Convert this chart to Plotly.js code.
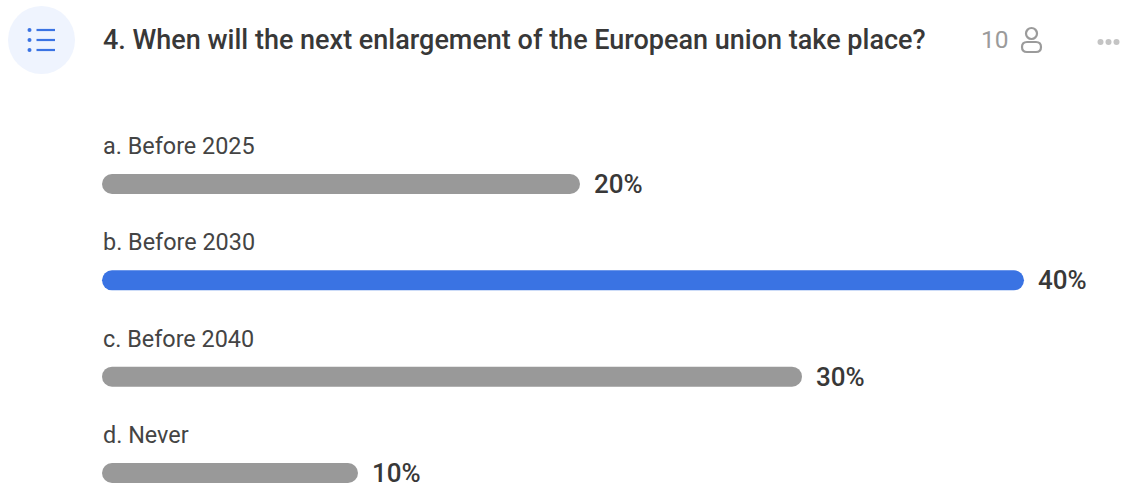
<!DOCTYPE html>
<html>
<head>
<meta charset="utf-8">
<script src="https://cdn.plot.ly/plotly-3.0.1.min.js"></script>
<style>html,body{margin:0;padding:0;background:#fff;overflow:hidden}#poll{width:1124px;height:484px}</style>
</head>
<body>
<div id="poll"></div>
<script>
// Poll result card: one rounded bar per answer, leading answer in blue.
const questionTitle = "4. When will the next enlargement of the European union take place?";
const answers = ["a. Before 2025", "b. Before 2030", "c. Before 2040", "d. Never"];
const shares = [20, 40, 30, 10];
const respondents = "10";

const GREY = "#999999", BLUE = "#3a73e3", INK = "#383838", MUTED = "#9b9b9b";
const FONT = "Roboto, sans-serif";
// Every bar keeps a short stub left of zero so a small share still reads as a pill.
const STUB = 1.53;
const leadingShare = Math.max(...shares);

const bars = {
  type: "bar",
  orientation: "h",
  y: answers.map((_, i) => i),
  x: shares.map(v => v + STUB),
  base: shares.map(() => -STUB),
  width: 0.2076,
  marker: {color: shares.map(v => v === leadingShare ? BLUE : GREY), line: {width: 0}},
  hoverinfo: "skip"
};

const annotations = [];
answers.forEach((label, i) => {
  annotations.push({
    xref: "x2", yref: "y", x: 100.5, y: i, yshift: 38, xanchor: "left", yanchor: "middle",
    text: label, showarrow: false, font: {family: FONT, size: 23.4, color: "#444444"}
  });
  annotations.push({
    xref: "x", yref: "y", x: shares[i], y: i, xshift: 12, xanchor: "left", yanchor: "middle",
    text: shares[i] + "%", showarrow: false, font: {family: FONT, size: 26, color: INK, weight: 500}
  });
});
annotations.push({
  xref: "x2", yref: "y2", x: 101, y: 40, xanchor: "left", yanchor: "middle",
  text: questionTitle, showarrow: false, font: {family: FONT, size: 27, color: INK, weight: 500}
});
annotations.push({
  xref: "x2", yref: "y2", x: 979, y: 39, xanchor: "left", yanchor: "middle",
  text: respondents, showarrow: false, font: {family: FONT, size: 24.5, color: MUTED}
});

// Header glyphs live on a second, pixel-scaled pair of axes.
const listLine = (y) => ({type: "line", xref: "x2", yref: "y2", x0: 36.5, x1: 55, y0: y, y1: y,
  line: {color: BLUE, width: 2.2}});
const listDot = (y) => ({type: "circle", xref: "x2", yref: "y2", x0: 27.5, x1: 31.5, y0: y - 2, y1: y + 2,
  fillcolor: BLUE, line: {width: 0}});
const moreDot = (x) => ({type: "circle", xref: "x2", yref: "y2", x0: x - 3, x1: x + 3, y0: 39, y1: 45,
  fillcolor: "#c4c4c4", line: {width: 0}});

const shapes = [
  {type: "circle", xref: "x2", yref: "y2", x0: 8, x1: 75, y0: 6, y1: 74, fillcolor: "#eff4fe", line: {width: 0}},
  listLine(30), listLine(40), listLine(50),
  listDot(30), listDot(40), listDot(50),
  {type: "circle", xref: "x2", yref: "y2", x0: 1026, x1: 1037, y0: 28, y1: 39, line: {color: MUTED, width: 2.2}},
  {type: "path", xref: "x2", yref: "y2",
   path: "M1027 42 H1036 Q1041 42 1041 47 Q1041 52 1036 52 H1027 Q1022 52 1022 47 Q1022 42 1027 42 Z",
   line: {color: MUTED, width: 2.2}},
  moreDot(1100.5), moreDot(1108.5), moreDot(1116.5)
];

const layout = {
  width: 1124, height: 484,
  margin: {l: 0, r: 0, t: 0, b: 0},
  paper_bgcolor: "#ffffff", plot_bgcolor: "#ffffff",
  barcornerradius: 10,
  showlegend: false,
  xaxis: {range: [-6.126, 44.505], visible: false, fixedrange: true},
  yaxis: {range: [3.114, -1.91], visible: false, fixedrange: true},
  xaxis2: {range: [0, 1124], visible: false, overlaying: "x", fixedrange: true},
  yaxis2: {range: [484, 0], visible: false, overlaying: "y", fixedrange: true},
  shapes, annotations
};

Plotly.newPlot("poll", [bars], layout, {displayModeBar: false, staticPlot: true});
</script>
</body>
</html>
